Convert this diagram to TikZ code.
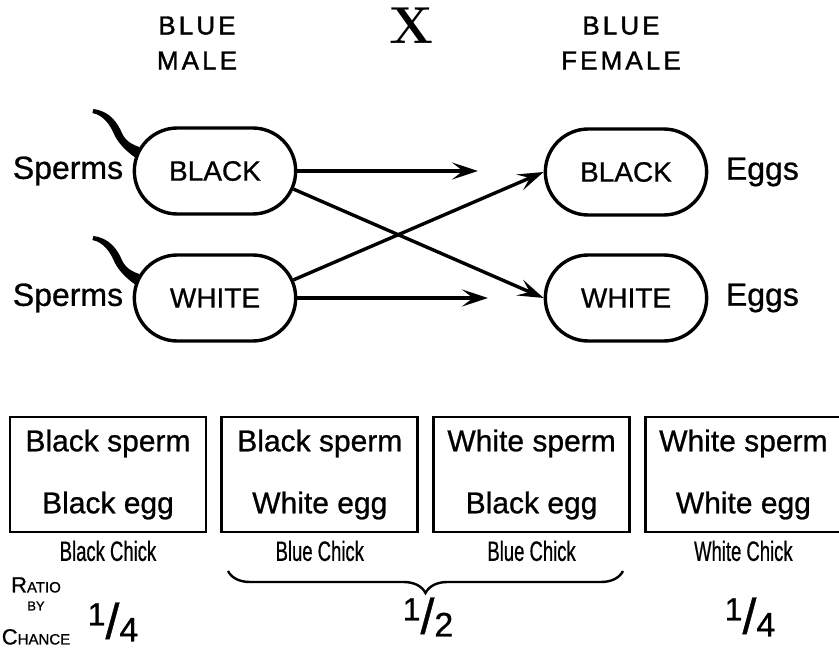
\documentclass[tikz,border=0pt]{standalone}
\usepackage{fontspec}
\newfontfamily\handfont[FakeBold=0.8]{Liberation Sans}
\newfontfamily\narrowfont[FakeStretch=0.66,FakeBold=0.6]{Liberation Sans}
\newfontfamily\spacedfont[LetterSpace=12,FakeBold=1.5]{Liberation Sans}
\usetikzlibrary{positioning,shapes.misc,arrows.meta,decorations.pathreplacing,calc}

\newcommand{\fsz}[1]{\fontsize{#1}{#1}\selectfont}
\newcommand{\fakesc}[2]{#1{\fsz{15}#2}}
\newcommand{\slashfrac}[2]{{\fsz{32}\raisebox{0.42em}{#1}}{\fsz{50}/}{\fsz{34}\raisebox{-0.08em}{#2}}}

\begin{document}
\begin{tikzpicture}[x=1pt,y=-1pt]
\tikzset{
    gamete/.style={
       draw, line width=3.4pt, rounded rectangle,
       minimum width=168pt, minimum height=86pt,
       font=\handfont\fsz{28}
    },
    side label/.style={font=\handfont\fsz{32}},
    head label/.style={
       align=center, font=\spacedfont\fontsize{26}{35}\selectfont
    },
    cross/.style={
       draw, line width=2.8pt, minimum width=196pt, minimum height=115pt,
       align=center, inner sep=0pt, font=\handfont\fontsize{30}{36}\selectfont
    },
    chick/.style={below=7pt, inner sep=0pt, font=\narrowfont\fsz{28}},
    fuse/.style={line width=3.4pt, -{Stealth[length=26pt,width=17pt,inset=11pt]}},
    brace/.style={
       line width=2.4pt,
       decoration={brace, mirror, amplitude=22pt},
       decorate
    },
    tail/.pic={
       \fill (1,-2) .. controls (-5,-4) and (-12,-7) .. (-16,-15)
          .. controls (-21,-27) and (-29,-38) .. (-45,-40) -- (-46,-36)
          .. controls (-35,-34) and (-28,-24) .. (-24,-14)
          .. controls (-19,-4) and (-10,4) .. (-1,10) -- cycle;
    }
}
\useasboundingbox (0,0) rectangle (839,663);
%
\node[head label] (male) at (197,43) {BLUE\\MALE};
\node[font=\rmfamily\bfseries\fsz{52}] (times) at (412,26) {X};
\node[head label] (female) at (621,43) {BLUE\\FEMALE};

% gametes
\node[gamete] (spermBlack) at (215,171) {BLACK};
\node[gamete] (spermWhite) at (215,298) {WHITE};
\node[gamete] (eggBlack) at (626,172) {BLACK};
\node[gamete] (eggWhite) at (626,298) {WHITE};

\pic at (spermBlack.164) {tail};
\pic at (spermWhite.164) {tail};

\node[side label, left=6pt of spermBlack] (spermsA) {Sperms};
\node[side label, left=6pt of spermWhite] (spermsB) {Sperms};
\node[side label, right=14pt of eggBlack] (eggsA) {Eggs};
\node[side label, right=14pt of eggWhite] (eggsB) {Eggs};

\coordinate (tipA) at (478,171);
\coordinate (tipB) at (488,298);
\draw[fuse] (spermBlack.east) -- (tipA);
\draw[fuse] (spermWhite.east) -- (tipB);
\draw[fuse] (spermBlack.-13) -- (eggWhite.west);
\draw[fuse] (spermWhite.13) -- (eggBlack.west);

% offspring
\node[cross] (boxA) at (108,474.5) {Black sperm\\[26pt]Black egg};
\node[cross, right=13pt of boxA] (boxB) {Black sperm\\[26pt]White egg};
\node[cross, right=13pt of boxB] (boxC) {White sperm\\[26pt]Black egg};
\node[cross, right=13pt of boxC] (boxD) {White sperm\\[26pt]White egg};

\node[chick] (chickA) at (boxA.south) {Black Chick};
\node[chick] (chickB) at (boxB.south) {Blue Chick};
\node[chick] (chickC) at (boxC.south) {Blue Chick};
\node[chick] (chickD) at (boxD.south) {White Chick};

\coordinate (braceL) at (228,571);
\coordinate (braceR) at (623,571);
\draw[brace] (braceL) -- (braceR);

\node[align=center, inner sep=0pt, font=\handfont\fontsize{22}{24}\selectfont] (ratio) at (36,611)
   {\fakesc{R}{ATIO}\\[-6pt]{\fsz{13}BY}\\[10pt]\fakesc{C}{HANCE}};
\node[font=\handfont] (fracA) at (113,622) {\slashfrac{1}{4}};
\node[font=\handfont] (fracB) at (428,617) {\slashfrac{1}{2}};
\node[font=\handfont] (fracC) at (750,617) {\slashfrac{1}{4}};
\end{tikzpicture}
\end{document}
